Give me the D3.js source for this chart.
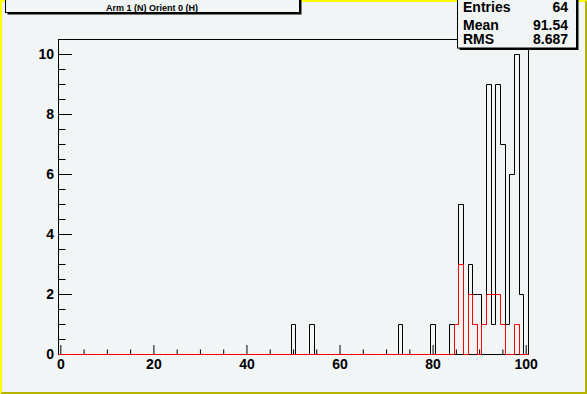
<!DOCTYPE html>
<html>
<head>
<meta charset="utf-8">
<script src="https://cdn.jsdelivr.net/npm/d3@7"></script>
<style>
  html, body { margin: 0; padding: 0; background: #f1f5f6; }
  svg { display: block; }
  text { font-family: "Liberation Sans", Arial, sans-serif; font-weight: bold; }
</style>
</head>
<body>
<svg id="body" width="587" height="394"></svg>
<script>
// histogram: 101 bins of width 1, centred on 0..100
let binLow = -0.5, binHigh = 100.5;

// all entries (black)
let allBins   = [50, 54, 73, 80, 84, 85, 86, 88, 89, 90, 91, 92, 93, 94, 95, 96, 97, 98, 99];
let allCounts = [ 1,  1,  1,  1,  1,  1,  5,  3,  2,  2,  1,  9,  1,  9,  7,  1,  6, 10,  2];

// selected entries (red)
let selBins   = [85, 86, 88, 89, 91, 92, 93, 94, 95, 98];
let selCounts = [ 1,  3,  2,  1,  1,  2,  2,  2,  1,  1];

let xMajor = [0, 20, 40, 60, 80, 100];
let yMajor = [0, 2, 4, 6, 8, 10];

let titleText = "Arm 1 (N) Orient 0 (H)";
let statNames  = ["Entries", "Mean", "RMS"];
let statValues = ["64", "91.54", "8.687"];

let svg = d3.select("#body");
let W = 587, H = 394;
let L = 58, R = 528, T = 39, B = 354;

let x = d3.scaleLinear().domain([binLow, binHigh]).range([L, R]);
let y = d3.scaleLinear().domain([0, 10.5]).range([B, T]);

// canvas border (raised look)
svg.append('rect').attr('width', W).attr('height', H).attr('fill', '#f1f5f6');
svg.append('path').attr('d', `M0,0H${W}L${W-2},2H2V${H-2}L0,${H}Z`).attr('fill', '#ffff00');
svg.append('path').attr('d', `M${W},${H}H0L2,${H-2}H${W-2}V2L${W},0Z`).attr('fill', '#b4b400');

// turn sparse bins into full step outline
function stepPoints(bins, counts){
  let vals = d3.range(0, 101).map(() => 0);
  bins.forEach((b, i) => vals[b] = counts[i]);
  let pts = [[binLow, 0]];
  vals.forEach((v, i) => {
    pts.push([i - 0.5, v]);
    pts.push([i + 0.5, v]);
  });
  pts.push([binHigh, 0]);
  return pts;
}

let line = d3.line()
  .x(d => Math.round(x(d[0])) + 0.5)
  .y(d => Math.round(y(d[1])) + 0.5);

// ticks (inside the frame)
let xMinorVals = d3.range(0, 101, 5).filter(v => xMajor.indexOf(v) < 0);
let yMinorVals = d3.range(0, 10.5, 0.5).filter(v => yMajor.indexOf(v) < 0);

let xAxis = svg.append('g').attr('transform', `translate(0,${B})`)
  .call(d3.axisBottom(x).tickValues(xMajor).tickSizeInner(-9).tickSizeOuter(0).tickPadding(5));
svg.append('g').attr('transform', `translate(0,${B})`)
  .call(d3.axisBottom(x).tickValues(xMinorVals).tickSizeInner(-4.5).tickSizeOuter(0).tickFormat(''));

let yAxis = svg.append('g').attr('transform', `translate(${L},0)`)
  .call(d3.axisLeft(y).tickValues(yMajor).tickSizeInner(-14).tickSizeOuter(0).tickPadding(4));
svg.append('g').attr('transform', `translate(${L},0)`)
  .call(d3.axisLeft(y).tickValues(yMinorVals).tickSizeInner(-7.5).tickSizeOuter(0).tickFormat(''));

svg.selectAll('.domain').remove();
svg.selectAll('.tick line').attr('stroke', 'black');
svg.selectAll('.tick text').attr('fill', 'black').style('font-size', '14px');

// histograms
svg.append('path').attr('d', line(stepPoints(allBins, allCounts)))
  .attr('fill', 'none').attr('stroke', 'black').attr('stroke-width', 1);

// frame
svg.append('rect')
  .attr('x', L + 0.5).attr('y', T + 0.5)
  .attr('width', R - L).attr('height', B - T)
  .attr('fill', 'none').attr('stroke', 'black');

svg.append('path').attr('d', line(stepPoints(selBins, selCounts)))
  .attr('fill', 'none').attr('stroke', 'red').attr('stroke-width', 1);

// title box
let tb = {x: 5.5, y: -20, w: 294, h: 32.5};
svg.append('rect').attr('x', tb.x + 2).attr('y', tb.y + 2).attr('width', tb.w).attr('height', tb.h).attr('fill', 'black');
svg.append('rect').attr('x', tb.x).attr('y', tb.y).attr('width', tb.w).attr('height', tb.h)
  .attr('fill', '#f1f5f6').attr('stroke', 'black');
svg.append('text').attr('x', 152).attr('y', 11).attr('text-anchor', 'middle')
  .style('font-size', '9px').text(titleText);

// stats box
let sb = {x: 457.5, y: -20, w: 119, h: 68};
svg.append('rect').attr('x', sb.x + 2).attr('y', sb.y + 2).attr('width', sb.w).attr('height', sb.h).attr('fill', 'black');
svg.append('rect').attr('x', sb.x).attr('y', sb.y).attr('width', sb.w).attr('height', sb.h)
  .attr('fill', '#f1f5f6').attr('stroke', 'black');
let statY = [11.5, 29.5, 44];
statNames.forEach((n, i) => {
  svg.append('text').attr('x', 463).attr('y', statY[i]).style('font-size', '14px').text(n);
  svg.append('text').attr('x', 568).attr('y', statY[i]).attr('text-anchor', 'end')
    .style('font-size', '14px').text(statValues[i]);
});
</script>
</body>
</html>
